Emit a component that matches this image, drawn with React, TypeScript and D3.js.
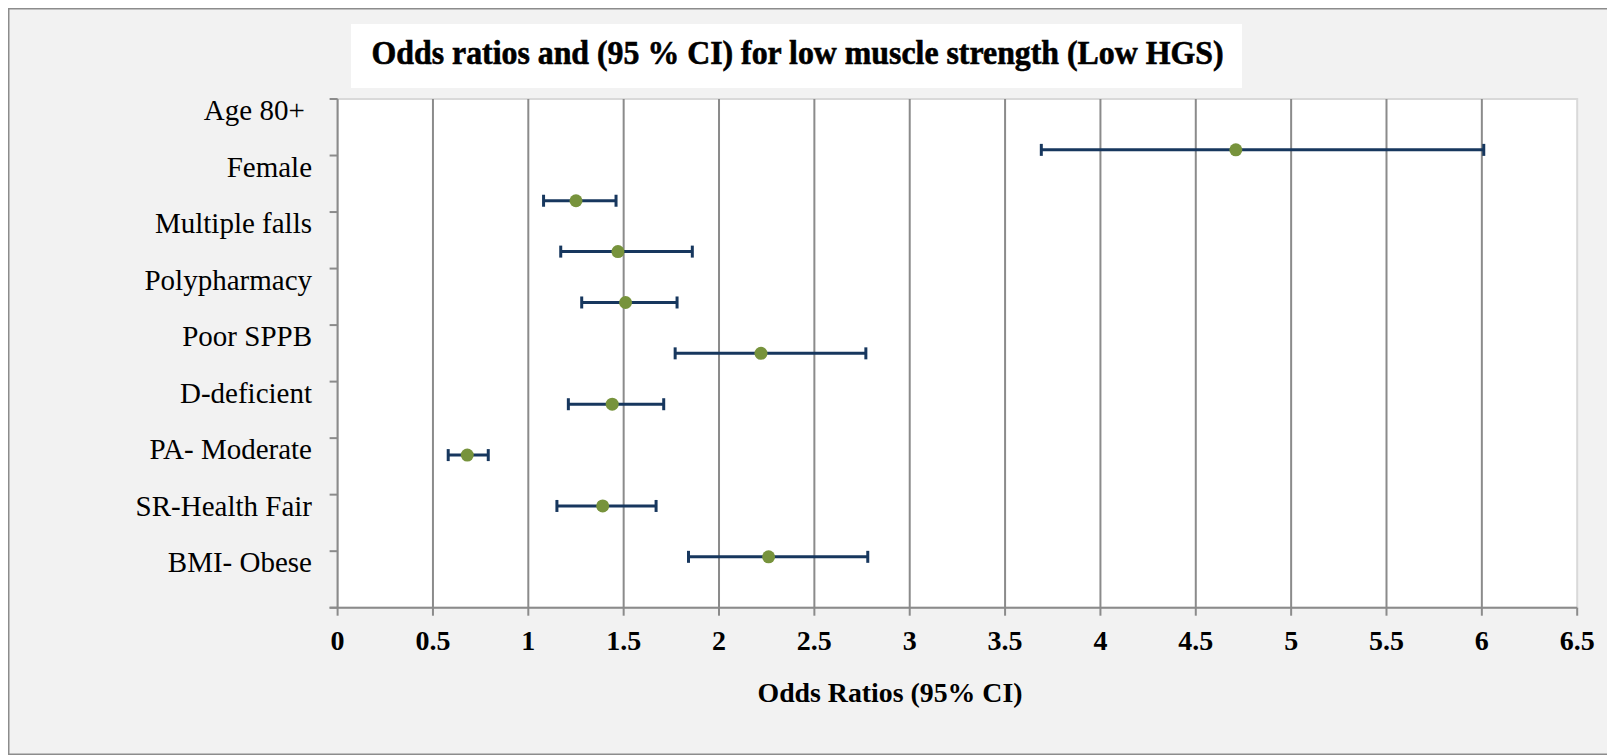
import React from "react";
import * as d3 from "d3";

const categories = [
  "Age 80+ ",
  "Female",
  "Multiple falls",
  "Polypharmacy",
  "Poor SPPB",
  "D-deficient",
  "PA- Moderate",
  "SR-Health Fair",
  "BMI- Obese",
];
const labelPositions = [9, 8, 7, 6, 5, 4, 3, 2, 1];
const pointPositions = [8.1, 7.2, 6.3, 5.4, 4.5, 3.6, 2.7, 1.8, 0.9];
const oddsRatios = [4.71, 1.25, 1.47, 1.51, 2.22, 1.44, 0.68, 1.39, 2.26];
const lowerCI = [3.69, 1.08, 1.17, 1.28, 1.77, 1.21, 0.58, 1.15, 1.84];
const upperCI = [6.01, 1.46, 1.86, 1.78, 2.77, 1.71, 0.79, 1.67, 2.78];
const xTickValues = [0, 0.5, 1, 1.5, 2, 2.5, 3, 3.5, 4, 4.5, 5, 5.5, 6, 6.5];
const yTickValues = [0, 1, 2, 3, 4, 5, 6, 7, 8, 9];
const chartTitle = "Odds ratios and (95 % CI) for low muscle strength (Low HGS)";
const xAxisTitle = "Odds Ratios (95% CI)";

const FONT = "'Liberation Serif', 'Times New Roman', serif";

export default function App() {
  const left = 337.6;
  const right = 1577.2;
  const top = 99;
  const bottom = 607.7;
  const x = d3.scaleLinear().domain([0, 6.5]).range([left, right]);
  const y = d3.scaleLinear().domain([0, 9]).range([bottom, top]);
  const gridColor = "#8b8b8b";
  const barColor = "#17375e";
  const dotColor = "#77933c";

  return (
    <svg
      width={1607}
      height={748}
      style={{ display: "block" }}
      xmlns="http://www.w3.org/2000/svg"
    >
      <g transform="translate(-8,-8)">
        <rect x={8.75} y={8.75} width={1599} height={745.5} fill="#f2f2f2" stroke="#8c8c8c" strokeWidth={1.5} />
        <rect x={351} y={24} width={891} height={64} fill="#ffffff" />
        <text
          x={371.5}
          y={64}
          fontFamily={FONT}
          fontWeight="bold"
          fontSize={33}
          textLength={852}
          lengthAdjust="spacingAndGlyphs"
          fill="#000"
          stroke="#000"
          strokeWidth={0.6}
        >
          {chartTitle}
        </text>
        <rect x={left} y={top} width={right - left} height={bottom - top} fill="#ffffff" stroke="#d9d9d9" strokeWidth={2} />
        {xTickValues
          .filter((v) => v > 0 && v < 6.5)
          .map((v) => (
            <line key={"g" + v} x1={x(v)} x2={x(v)} y1={top} y2={bottom} stroke={gridColor} strokeWidth={2} />
          ))}
        <line x1={left} x2={left} y1={top} y2={bottom} stroke={gridColor} strokeWidth={2} />
        {yTickValues.map((v) => (
          <line key={"yt" + v} x1={left - 8} x2={left} y1={y(v)} y2={y(v)} stroke={gridColor} strokeWidth={2} />
        ))}
        <line x1={left - 8} x2={right} y1={bottom} y2={bottom} stroke={gridColor} strokeWidth={2} />
        {xTickValues.map((v) => (
          <line key={"xt" + v} x1={x(v)} x2={x(v)} y1={bottom} y2={bottom + 8} stroke={gridColor} strokeWidth={2} />
        ))}
        {xTickValues.map((v) => (
          <text
            key={"xl" + v}
            x={x(v)}
            y={650}
            textAnchor="middle"
            fontFamily={FONT}
            fontWeight="bold"
            fontSize={28}
            fill="#000"
          >
            {String(v)}
          </text>
        ))}
        {categories.map((c, i) => (
          <text
            key={"c" + i}
            x={312}
            y={y(labelPositions[i]) + 21}
            textAnchor="end"
            fontFamily={FONT}
            fontSize={29}
            fill="#000"
            style={{ whiteSpace: "pre" }}
          >
            {c}
          </text>
        ))}
        {categories.map((c, i) => {
          const yy = y(pointPositions[i]);
          return (
            <g key={"e" + i}>
              <line x1={x(lowerCI[i])} x2={x(upperCI[i])} y1={yy} y2={yy} stroke={barColor} strokeWidth={3} />
              <line x1={x(lowerCI[i])} x2={x(lowerCI[i])} y1={yy - 6} y2={yy + 6} stroke={barColor} strokeWidth={3} />
              <line x1={x(upperCI[i])} x2={x(upperCI[i])} y1={yy - 6} y2={yy + 6} stroke={barColor} strokeWidth={3} />
              <circle cx={x(oddsRatios[i])} cy={yy} r={6.5} fill={dotColor} />
            </g>
          );
        })}
        <text
          x={890}
          y={701.5}
          textAnchor="middle"
          fontFamily={FONT}
          fontWeight="bold"
          fontSize={28}
          textLength={265}
          lengthAdjust="spacingAndGlyphs"
          fill="#000"
        >
          {xAxisTitle}
        </text>
      </g>
    </svg>
  );
}
